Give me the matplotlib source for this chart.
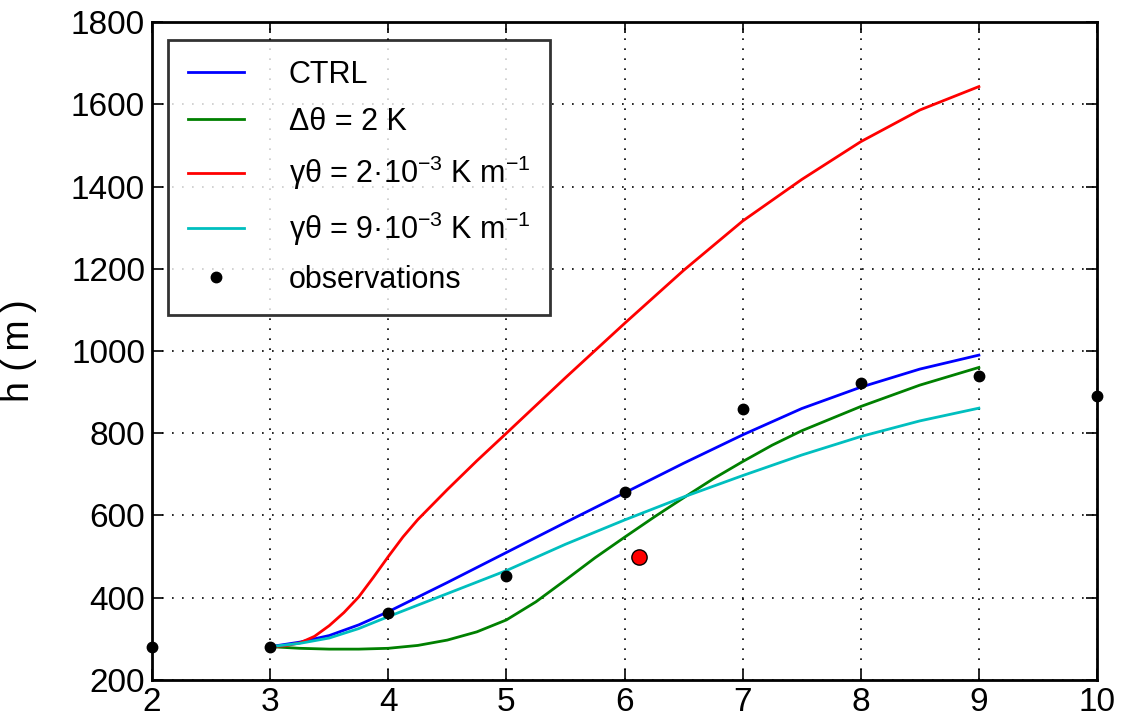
import numpy as np
import matplotlib
matplotlib.use("Agg")
import matplotlib.pyplot as plt
from matplotlib.ticker import MultipleLocator

plt.rcParams['font.family'] = ['Liberation Sans', 'DejaVu Sans']
plt.rcParams['mathtext.default'] = 'regular'

# Boundary-layer height series (time in hours, height in m)
t_ctrl = [3.0, 3.25, 3.5, 3.75, 4.0, 4.5, 5.0, 5.5, 6.0, 6.5, 7.0, 7.5, 8.0, 8.5, 9.0]
h_ctrl = [281, 292, 308, 334, 366, 437, 510, 583, 655, 727, 796, 860, 912, 956, 990]

t_dtheta = [3.0, 3.25, 3.5, 3.75, 4.0, 4.25, 4.5, 4.75, 5.0, 5.25, 5.5, 5.75, 6.0,
            6.25, 6.5, 6.75, 7.0, 7.25, 7.5, 8.0, 8.5, 9.0]
h_dtheta = [281, 277, 275, 275, 277, 284, 297, 317, 346, 390, 443, 497, 547,
            596, 643, 689, 731, 771, 806, 865, 917, 960]

t_gamma2 = [3.0, 3.125, 3.25, 3.375, 3.5, 3.625, 3.75, 3.875, 4.0, 4.125, 4.25,
            4.5, 4.75, 5.0, 5.5, 6.0, 6.5, 7.0, 7.5, 8.0, 8.5, 9.0]
h_gamma2 = [281, 283, 290, 306, 332, 364, 402, 450, 500, 548, 590,
            663, 733, 800, 935, 1067, 1196, 1316, 1417, 1509, 1586, 1643]

t_gamma9 = [3.0, 3.25, 3.5, 3.75, 4.0, 4.5, 5.0, 5.5, 6.0, 6.5, 7.0, 7.5, 8.0, 8.5, 9.0]
h_gamma9 = [281, 289, 302, 325, 354, 410, 466, 530, 589, 645, 697, 747, 792, 830, 861]

t_obs = [2, 3, 4, 5, 6, 7, 8, 9, 10]
h_obs = [280, 280, 362, 452, 656, 860, 922, 938, 890]

t_special = [6.12]
h_special = [500]

fig = plt.figure(figsize=(11.22, 7.2), dpi=100)
ax = fig.add_axes([0.1355, 0.0556, 0.8422, 0.9138])

ax.plot(t_ctrl, h_ctrl, color='#0000ff', lw=2, label='CTRL')
ax.plot(t_dtheta, h_dtheta, color='#008000', lw=2, label='Δθ = 2 K')
ax.plot(t_gamma2, h_gamma2, color='#ff0000', lw=2, label='γθ = 2·10$^{-3}$ K m$^{-1}$')
ax.plot(t_gamma9, h_gamma9, color='#00bfbf', lw=2, label='γθ = 9·10$^{-3}$ K m$^{-1}$')
ax.plot(t_obs, h_obs, 'o', color='black', ms=7.5, ls='none', label='observations',
        clip_on=False, zorder=5)
ax.plot(t_special, h_special, 'o', color='#ff0000', mec='black', mew=1, ms=11,
        zorder=6)

ax.set_xlim(2, 10)
ax.set_ylim(200, 1800)
ax.xaxis.set_major_locator(MultipleLocator(1))
ax.yaxis.set_major_locator(MultipleLocator(200))
ax.grid(True, color='black', linestyle=(0, (1, 5)), linewidth=1.2)
ax.tick_params(direction='in', length=8, width=1.2, top=True, right=True,
               labelsize=24, pad=5)
for s in ax.spines.values():
    s.set_linewidth(2)
ax.set_ylabel('h (\u2009m\u2009)', fontsize=27)
ax.yaxis.set_label_coords(-0.122, 0.5)

leg = ax.legend(loc='upper left', bbox_to_anchor=(0.0169, 0.9726), fontsize=22,
                frameon=True, fancybox=False, edgecolor='black',
                handlelength=1.85, handletextpad=1.45, labelspacing=0.56,
                borderpad=0.65, borderaxespad=0.0, numpoints=1)
leg.get_frame().set_linewidth(2)

fig.savefig('out.png', dpi=100)
